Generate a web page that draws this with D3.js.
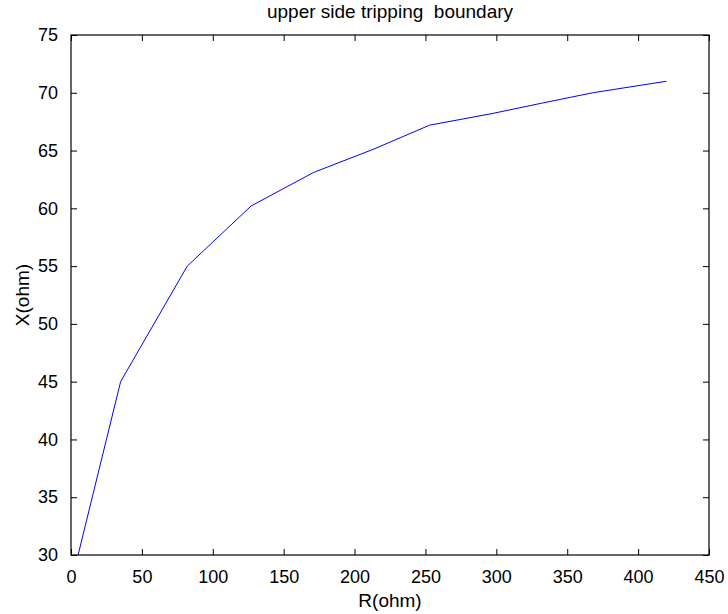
<!DOCTYPE html>
<html>
<head>
<meta charset="utf-8">
<script src="https://d3js.org/d3.v7.min.js"></script>
<style>
  html, body { margin: 0; padding: 0; background: #fff; }
  svg text { font-family: "Liberation Sans", Arial, Helvetica, sans-serif; fill: #000; }
</style>
</head>
<body>
<div id="chart"></div>
<script>
// upper side tripping boundary - R vs X

var rValues = [5, 35, 82, 127, 171, 213, 253, 297, 332, 368, 420];
var xValues = [30, 45, 55, 60.2, 63.1, 65.1, 67.2, 68.2, 69.1, 70, 71];
var rTicks = [0, 50, 100, 150, 200, 250, 300, 350, 400, 450];
var xTicks = [30, 35, 40, 45, 50, 55, 60, 65, 70, 75];

function drawChart() {
  var width = 728, height = 614;
  var margin = { left: 71, right: 19, top: 35, bottom: 59 };
  var tickFont = 18;
  var labelFont = 19;
  var tickLen = 6;

  var svg = d3.select('#chart')
    .append('svg')
    .attr('width', width)
    .attr('height', height);

  var x = d3.scaleLinear().domain([0, 450]).range([margin.left, width - margin.right]);
  var y = d3.scaleLinear().domain([30, 75]).range([height - margin.bottom, margin.top]);

  var g = svg.append('g');

  // Line
  var points = rValues.map(function(r, i) { return [r, xValues[i]]; });
  var line = d3.line()
    .x(function(d) { return x(d[0]); })
    .y(function(d) { return y(d[1]); });

  g.append('path')
    .datum(points)
    .attr('fill', 'none')
    .attr('stroke', '#0000ff')
    .attr('stroke-width', 1)
    .attr('d', line);

  // Axes (MATLAB-style box with inward ticks on all sides)
  function styleAxis(sel) {
    sel.select('.domain').remove();
    sel.selectAll('.tick line').attr('stroke', '#000').attr('stroke-width', 1);
    sel.selectAll('.tick text').style('font-size', tickFont + 'px');
  }

  var axBottom = g.append('g')
    .attr('transform', 'translate(0,' + y(30) + ')')
    .call(d3.axisBottom(x).tickValues(rTicks).tickSize(-tickLen).tickPadding(tickLen + 9).tickFormat(d3.format('d')));
  styleAxis(axBottom);

  var axTop = g.append('g')
    .attr('transform', 'translate(0,' + y(75) + ')')
    .call(d3.axisTop(x).tickValues(rTicks).tickSize(-tickLen).tickFormat(''));
  styleAxis(axTop);

  var axLeft = g.append('g')
    .attr('transform', 'translate(' + x(0) + ',0)')
    .call(d3.axisLeft(y).tickValues(xTicks).tickSize(-tickLen).tickPadding(tickLen + 7).tickFormat(d3.format('d')));
  styleAxis(axLeft);

  var axRight = g.append('g')
    .attr('transform', 'translate(' + x(450) + ',0)')
    .call(d3.axisRight(y).tickValues(xTicks).tickSize(-tickLen).tickFormat(''));
  styleAxis(axRight);

  // Box
  g.append('rect')
    .attr('x', x(0))
    .attr('y', y(75))
    .attr('width', x(450) - x(0))
    .attr('height', y(30) - y(75))
    .attr('fill', 'none')
    .attr('stroke', '#000')
    .attr('stroke-width', 1.2);

  // Title and labels
  var cx = (x(0) + x(450)) / 2;
  svg.append('text')
    .attr('x', cx)
    .attr('y', 18)
    .attr('text-anchor', 'middle')
    .style('font-size', labelFont + 'px')
    .style('white-space', 'pre')
    .text('upper side tripping  boundary');

  svg.append('text')
    .attr('x', cx)
    .attr('y', 607)
    .attr('text-anchor', 'middle')
    .style('font-size', labelFont + 'px')
    .text('R(ohm)');

  svg.append('text')
    .attr('transform', 'translate(29,' + ((y(30) + y(75)) / 2) + ') rotate(-90)')
    .attr('text-anchor', 'middle')
    .style('font-size', labelFont + 'px')
    .text('X(ohm)');
}

drawChart();
</script>
</body>
</html>
